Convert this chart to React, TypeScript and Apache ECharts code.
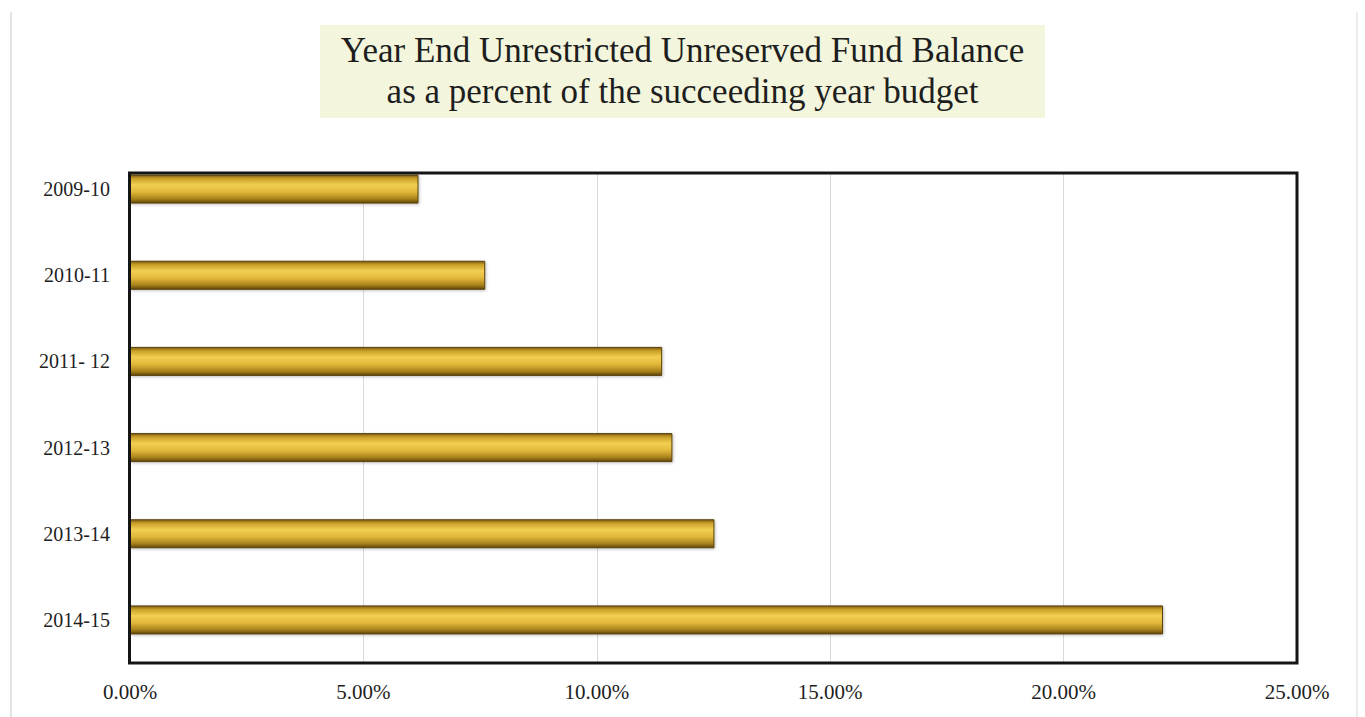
import React, { useEffect, useRef } from "react";
import * as echarts from "echarts";

const categories = ["2009-10", "2010-11", "2011- 12", "2012-13", "2013-14", "2014-15"];
const values = [6.18, 7.61, 11.4, 11.62, 12.52, 22.13];
const axisMin = 0;
const axisMax = 25;
const axisInterval = 5;
const titleLines = [
  "Year End Unrestricted Unreserved Fund Balance",
  "as a percent of the succeeding year budget",
];

const FONT = "'Liberation Serif', 'DejaVu Serif', serif";

export default function App() {
  const ref = useRef<HTMLDivElement>(null);
  useEffect(() => {
    if (!ref.current) return;
    const chart = echarts.init(ref.current, null, { renderer: "svg" });
    const plotLeft = 130;
    const plotRight = 1297;
    const plotTop = 173;
    const plotBottom = 663;
    const barGradient = new echarts.graphic.LinearGradient(0, 0, 0, 1, [
      { offset: 0, color: "#7a5c12" },
      { offset: 0.12, color: "#c99e26" },
      { offset: 0.35, color: "#f2cf52" },
      { offset: 0.6, color: "#e2b83a" },
      { offset: 0.85, color: "#a9821c" },
      { offset: 1, color: "#5e4508" },
    ]);
    const titleStyle = {
      fontFamily: FONT,
      fontSize: 35,
      fontWeight: "normal",
      color: "#1e1e1e",
    };
    chart.setOption({
      animation: false,
      backgroundColor: "#ffffff",
      title: [
        { text: titleLines[0], left: "center", top: 33, padding: 0, textStyle: titleStyle },
        { text: titleLines[1], left: "center", top: 74, padding: 0, textStyle: titleStyle },
      ],
      graphic: [
        {
          type: "rect",
          z: -1,
          shape: { x: 320, y: 25, width: 725, height: 93 },
          style: { fill: "#f3f6dc" },
        },
        {
          type: "line",
          shape: { x1: 11, y1: 12, x2: 11, y2: 717 },
          style: { stroke: "#e4e4e4", lineWidth: 2 },
        },
        {
          type: "line",
          shape: { x1: 1357, y1: 12, x2: 1357, y2: 717 },
          style: { stroke: "#ececec", lineWidth: 2 },
        },
        {
          type: "rect",
          z: 50,
          shape: {
            x: plotLeft - 0.5,
            y: plotTop,
            width: plotRight - plotLeft + 0.5,
            height: plotBottom - plotTop,
          },
          style: { fill: "none", stroke: "#151515", lineWidth: 3 },
        },
      ],
      grid: [
        { left: plotLeft, right: 1365 - plotRight, top: plotTop, bottom: 717 - plotBottom },
        { left: plotLeft, right: 1365 - plotRight, top: 146, bottom: 717 - plotBottom },
      ],
      xAxis: [
        {
          gridIndex: 0,
          type: "value",
          min: axisMin,
          max: axisMax,
          interval: axisInterval,
          axisLine: { show: false },
          axisTick: { show: false },
          splitLine: { show: true, lineStyle: { color: "#d9d9d9", width: 1 } },
          axisLabel: {
            margin: 18,
            fontFamily: FONT,
            fontSize: 21,
            color: "#1e1e1e",
            formatter: (v: number) => v.toFixed(2) + "%",
          },
        },
        {
          gridIndex: 1,
          type: "value",
          min: axisMin,
          max: axisMax,
          interval: axisInterval,
          show: false,
          splitLine: { show: false },
        },
      ],
      yAxis: [
        {
          gridIndex: 0,
          type: "value",
          show: false,
          splitLine: { show: false },
        },
        {
          gridIndex: 1,
          type: "category",
          data: categories,
          inverse: true,
          axisLine: { show: false },
          axisTick: { show: false },
          splitLine: { show: false },
          axisLabel: {
            margin: 20,
            fontFamily: FONT,
            fontSize: 20,
            color: "#1e1e1e",
          },
        },
      ],
      series: [
        {
          type: "bar",
          xAxisIndex: 1,
          yAxisIndex: 1,
          data: values,
          barWidth: 29,
          itemStyle: {
            color: barGradient,
            borderColor: "#5a430c",
            borderWidth: 1,
            shadowColor: "rgba(0,0,0,0.25)",
            shadowBlur: 3,
            shadowOffsetX: 1,
            shadowOffsetY: 1,
          },
        },
      ],
    });
    return () => chart.dispose();
  }, []);
  return (
    <div
      ref={ref}
      style={{ position: "fixed", left: 0, top: 0, width: 1365, height: 717 }}
    />
  );
}
